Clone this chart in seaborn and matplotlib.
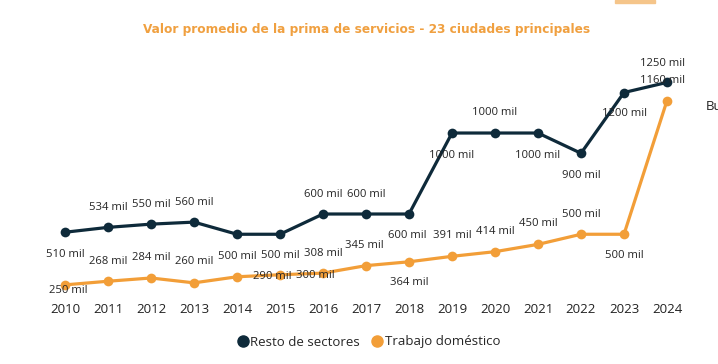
import matplotlib
matplotlib.use("Agg")
import matplotlib.pyplot as plt
import matplotlib.patches as mpatches
from matplotlib.lines import Line2D
import seaborn as sns
import pandas as pd

years = list(range(2010, 2025))
resto = [510, 534, 550, 560, 500, 500, 600, 600, 600, 1000, 1000, 1000, 900, 1200, 1250]
domestico = [250, 268, 284, 260, 290, 300, 308, 345, 364, 391, 414, 450, 500, 500, 1160]
series_names = ["Resto de sectores", "Trabajo doméstico"]
title = "Valor promedio de la prima de servicios - 23 ciudades principales"

# label offsets in pixels (dx, dy up)
resto_off = [(0, -22), (0, 20), (0, 20), (0, 20), (0, -22), (0, -21), (0, 20), (0, 20),
             (-2, -21), (0, -22), (0, 21), (0, -22), (0, -22), (0, -21), (-5, 19)]
dom_off = [(3, -6), (0, 20), (0, 20), (0, 21), (35, 0), (35, -1), (0, 20), (-2, 20),
           (0, -21), (0, 21), (0, 20), (0, 21), (0, 20), (0, -21), (-5, 20)]

c_dark = "#0E2A3A"
c_orange = "#F29E38"

sns.set_theme(style="white")
plt.rcParams["font.family"] = ["Open Sans", "DejaVu Sans"]

df = pd.DataFrame({
    "year": years * 2,
    "value": resto + domestico,
    "serie": [series_names[0]] * len(years) + [series_names[1]] * len(years),
})

fig = plt.figure(figsize=(7.18, 3.64), dpi=100)
ax = fig.add_axes([43.5 / 718, 1 - 295 / 364, 645 / 718, (295 - 66.2) / 364])
sns.lineplot(data=df, x="year", y="value", hue="serie", palette=[c_dark, c_orange],
             marker="o", markersize=7, markeredgewidth=0, linewidth=2.3, ax=ax,
             legend=False)
ax.set_xlim(2009.5, 2024.5)
ax.set_ylim(200, 1330)
ax.set_xticks(years)
ax.set_xticklabels([str(y) for y in years], fontsize=9.5, color="#222222")
ax.set_yticks([])
ax.set_xlabel("")
ax.set_ylabel("")
ax.tick_params(axis="x", length=0, pad=6)
for s in ax.spines.values():
    s.set_visible(False)

px = 0.72
for vals, offs in ((resto, resto_off), (domestico, dom_off)):
    for x, v, (dx, dy) in zip(years, vals, offs):
        ax.annotate(f"{v} mil", (x, v), xytext=(dx * px, dy * px), textcoords="offset points",
                    ha="center", va="center", fontsize=8.1, color="#252525",
                    annotation_clip=False)

fig.text(0.51, 1 - 29 / 364, title, ha="center", va="center", fontsize=9.7,
         fontweight="bold", fontstretch="condensed", color="#F0A040",
         family=["DejaVu Sans"])

handles = [Line2D([], [], marker="o", linestyle="", color=c, markersize=8) for c in (c_dark, c_orange)]
fig.legend(handles, series_names, loc="center", bbox_to_anchor=(0.513, 1 - 342 / 364),
           ncol=2, frameon=False, fontsize=9.5, handletextpad=0.05, columnspacing=0.8,
           handlelength=1.0)

fig.text(706 / 718, 1 - 106 / 364, "Bu", ha="left", va="center", fontsize=9.5, color="#222222")
fig.patches.append(mpatches.Rectangle((615 / 718, 1 - 3 / 364), 40 / 718, 3 / 364,
                                      transform=fig.transFigure, color="#F5C58A"))

fig.savefig("out.png", dpi=100)
